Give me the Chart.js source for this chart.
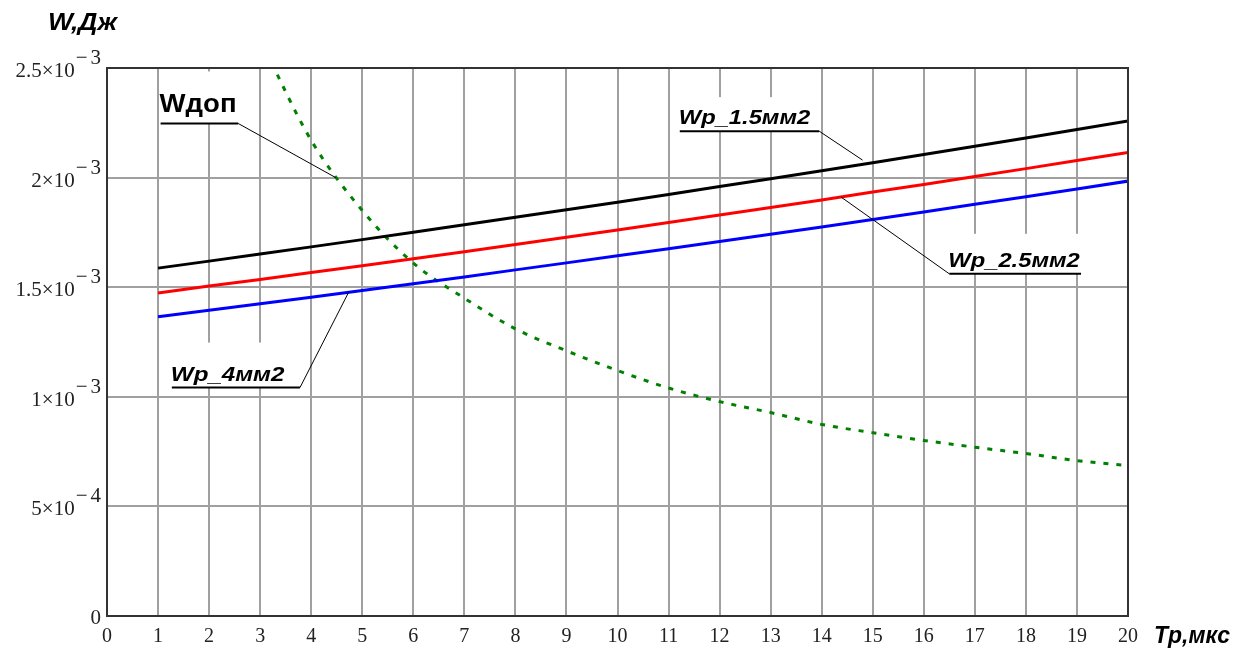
<!DOCTYPE html>
<html>
<head>
<meta charset="utf-8">
<script src="https://cdn.jsdelivr.net/npm/chart.js@4.4.1/dist/chart.umd.min.js"></script>
<style>
  html, body { margin: 0; padding: 0; background: #fff; }
  #wrap { width: 1235px; height: 648px; }
</style>
</head>
<body>
<div id="wrap"><canvas id="chart" width="1235" height="648"></canvas></div>
<script>
// Tp, мкс
var tp = [1, 2, 3, 4, 5, 6, 7, 8, 9, 10, 11, 12, 13, 14, 15, 16, 17, 18, 19, 20];
// W, Дж (values in 1e-3 J)
var wp15 = [1.587, 1.619, 1.651, 1.684, 1.717, 1.751, 1.785, 1.819, 1.853, 1.888,
            1.923, 1.959, 1.995, 2.031, 2.068, 2.105, 2.143, 2.181, 2.219, 2.258];
var wp25 = [1.474, 1.505, 1.535, 1.567, 1.598, 1.630, 1.662, 1.695, 1.728, 1.761,
            1.795, 1.829, 1.864, 1.898, 1.934, 1.969, 2.005, 2.041, 2.078, 2.115];
var wp4 = [1.365, 1.395, 1.424, 1.454, 1.485, 1.516, 1.547, 1.579, 1.611, 1.643,
           1.675, 1.708, 1.742, 1.775, 1.809, 1.843, 1.878, 1.913, 1.948, 1.984];
var wdopTp = [3, 4, 5, 6, 7, 8, 9, 10, 11, 12, 13, 14, 15, 16, 17, 18, 19, 20];
var wdop = [2.63, 2.17, 1.85, 1.61, 1.45, 1.31, 1.21, 1.12, 1.04, 0.978,
            0.928, 0.874, 0.836, 0.801, 0.770, 0.741, 0.709, 0.686];
var xTicks = [0, 1, 2, 3, 4, 5, 6, 7, 8, 9, 10, 11, 12, 13, 14, 15, 16, 17, 18, 19, 20];
// y tick labels: mantissa and power of ten
var yTickMant = ['0', '5', '1', '1.5', '2', '2.5'];
var yTickExp = ['', '−4', '−3', '−3', '−3', '−3'];

function pts(xs, ys) {
  return xs.map(function(x, i) { return { x: x, y: ys[i] * 1e-3 }; });
}

// callout labels: underline from x0..x1 at y, leader from one end to target point
var callouts = [
  { text: 'Wдоп', font: 'bold 26px', sx: 1.06, boxH: 52, x0: 1.05, x1: 2.57, y: 2.247e-3, from: 'right', tx: 4.48, ty: 2.0e-3 },
  { text: 'Wp_1.5мм2', font: 'italic bold 21px', sx: 1.13, boxH: 34, x0: 11.22, x1: 13.95, y: 2.212e-3, from: 'right', tx: 14.8, ty: 2.08e-3 },
  { text: 'Wp_2.5мм2', font: 'italic bold 21px', sx: 1.13, boxH: 40, x0: 16.5, x1: 19.08, y: 1.561e-3, from: 'left', tx: 14.38, ty: 1.911e-3 },
  { text: 'Wp_4мм2', font: 'italic bold 21px', sx: 1.15, boxH: 45, x0: 1.27, x1: 3.78, y: 1.042e-3, from: 'right', tx: 4.74, ty: 1.48e-3 }
];

var sans = '"Liberation Sans", Arial, sans-serif';
var serif = '"Liberation Serif", "Times New Roman", serif';

function wideText(ctx, text, x, y, sx) {
  ctx.save();
  ctx.translate(x, y);
  ctx.scale(sx, 1);
  ctx.fillText(text, 0, 0);
  ctx.restore();
}

var calloutPlugin = {
  id: 'callouts',
  beforeDatasetsDraw: function(chart) {
    var ctx = chart.ctx, xs = chart.scales.x, ys = chart.scales.y;
    ctx.save();
    callouts.forEach(function(c) {
      var x0 = xs.getPixelForValue(c.x0), x1 = xs.getPixelForValue(c.x1);
      var y = ys.getPixelForValue(c.y);
      ctx.fillStyle = '#fff';
      ctx.fillRect(x0 - 1, y - c.boxH, x1 - x0 + 2, c.boxH);
    });
    ctx.restore();
  },
  afterDatasetsDraw: function(chart) {
    var ctx = chart.ctx, xs = chart.scales.x, ys = chart.scales.y, a = chart.chartArea;
    ctx.save();
    // frame
    ctx.strokeStyle = '#333';
    ctx.lineWidth = 2;
    ctx.strokeRect(a.left, a.top, a.right - a.left, a.bottom - a.top);
    callouts.forEach(function(c) {
      var x0 = xs.getPixelForValue(c.x0), x1 = xs.getPixelForValue(c.x1);
      var y = ys.getPixelForValue(c.y);
      ctx.strokeStyle = '#000';
      ctx.lineWidth = 2;
      ctx.beginPath();
      ctx.moveTo(x0, y); ctx.lineTo(x1, y);
      ctx.stroke();
      ctx.lineWidth = 1;
      ctx.beginPath();
      ctx.moveTo(c.from === 'left' ? x0 : x1, y);
      ctx.lineTo(xs.getPixelForValue(c.tx), ys.getPixelForValue(c.ty));
      ctx.stroke();
      ctx.fillStyle = '#000';
      ctx.font = c.font + ' ' + sans;
      ctx.textBaseline = 'alphabetic';
      ctx.textAlign = 'left';
      wideText(ctx, c.text, x0 - 1, y - (c.text === 'Wдоп' ? 11 : 7), c.sx);
    });
    ctx.restore();
  },
  afterDraw: function(chart) {
    var ctx = chart.ctx, ys = chart.scales.y;
    ctx.save();
    ctx.fillStyle = '#000';
    ctx.textBaseline = 'alphabetic';
    ctx.textAlign = 'left';
    // axis titles
    ctx.font = 'italic bold 23px ' + sans;
    wideText(ctx, 'W,Дж', 48, 30, 1.15);
    wideText(ctx, 'Tp,мкс', 1154, 643, 1.0);
    // y tick labels with raised exponent
    ctx.fillStyle = '#222';
    ctx.font = '21px ' + serif;
    ys.ticks.forEach(function(t, i) {
      var py = ys.getPixelForValue(t.value);
      var right = 101;
      if (!yTickExp[i]) {
        ctx.textAlign = 'right';
        ctx.fillText(yTickMant[i], right, py + 8);
        return;
      }
      var sup = yTickExp[i];
      var minus = sup.charAt(0), digit = sup.slice(1);
      var wd = ctx.measureText(digit).width, wm = ctx.measureText(minus).width;
      ctx.textAlign = 'left';
      var dx = right - wd;
      ctx.fillText(digit, dx, py - 4);
      var mx = dx - 3 - wm;
      ctx.fillText(minus, mx, py - 4);
      ctx.textAlign = 'right';
      ctx.fillText(yTickMant[i] + '×10', mx - 1, py + 9);
    });
    ctx.restore();
  }
};

new Chart(document.getElementById('chart'), {
  type: 'line',
  data: {
    datasets: [
      { label: 'Wp_1.5мм2', data: pts(tp, wp15), borderColor: '#000', borderWidth: 3, pointRadius: 0, tension: 0 },
      { label: 'Wp_2.5мм2', data: pts(tp, wp25), borderColor: '#ff0000', borderWidth: 3, pointRadius: 0, tension: 0 },
      { label: 'Wp_4мм2', data: pts(tp, wp4), borderColor: '#0000ff', borderWidth: 3, pointRadius: 0, tension: 0 },
      { label: 'Wдоп', data: pts(wdopTp, wdop), borderColor: '#008000', borderWidth: 3, borderDash: [5, 8],
        pointRadius: 0, cubicInterpolationMode: 'monotone' }
    ]
  },
  options: {
    responsive: false,
    animation: false,
    layout: { padding: { top: 68, right: 107, left: 0, bottom: 0 } },
    plugins: { legend: { display: false }, tooltip: { enabled: false } },
    scales: {
      x: {
        type: 'linear',
        min: 0, max: 20,
        afterBuildTicks: function(scale) {
          scale.ticks = xTicks.map(function(v) { return { value: v }; });
        },
        afterFit: function(scale) { scale.height = 32; },
        grid: { color: '#a0a0a0', lineWidth: 2, drawTicks: false },
        border: { display: true, color: '#333', width: 2 },
        ticks: { color: '#222', font: { family: serif, size: 20 }, padding: 9, maxRotation: 0, autoSkip: false }
      },
      y: {
        type: 'linear',
        min: 0, max: 2.5e-3,
        afterBuildTicks: function(scale) {
          scale.ticks = yTickMant.map(function(l, i) { return { value: i * 5e-4 }; });
        },
        afterFit: function(scale) { scale.width = 107; },
        grid: { color: '#a0a0a0', lineWidth: 2, drawTicks: false },
        border: { display: true, color: '#333', width: 2 },
        ticks: { display: false }
      }
    }
  },
  plugins: [calloutPlugin]
});
</script>
</body>
</html>
